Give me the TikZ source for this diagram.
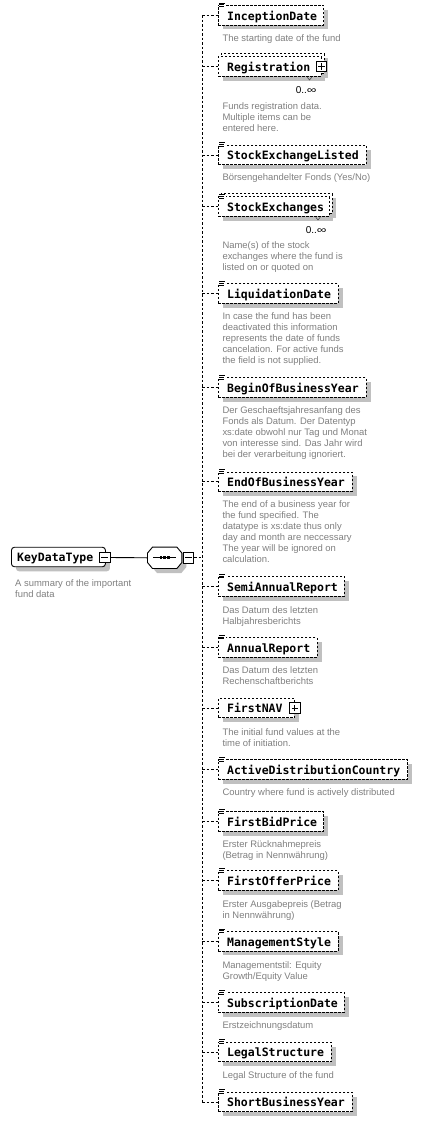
\documentclass[tikz,border=0pt]{standalone}
\usepackage{fontspec}
\usepackage{graphicx}
\setmainfont{Liberation Sans}
\newfontfamily\monofam{DejaVu Sans Mono}
\definecolor{shadowc}{RGB}{192,192,192}
\definecolor{descc}{RGB}{128,128,128}
\newcommand\elfont{\monofam\bfseries\fontsize{11.5}{13}\selectfont\hyphenpenalty=10000 \exhyphenpenalty=10000 }
\newcommand\descfont{\fontsize{9.45}{10.9}\selectfont}
\newcommand\occfont{\fontsize{10}{11}\selectfont}
\newcommand\occtext{0..\scalebox{1.35}[1]{∞}}
\tikzset{
  boxline/.style={draw=black, line width=0.9pt, dash pattern=on 2.2pt off 1.8pt},
  gshadow/.style={preaction={draw=none, fill=shadowc, transform canvas={xshift=4.5pt, yshift=-4.5pt}}},
  elembase/.style={boxline, fill=white, minimum height=19.5pt, inner xsep=8.7pt, inner ysep=0pt,
    anchor=west, align=left, text height=10pt, text depth=0.4pt, font=\elfont},
  elembox/.style={elembase, gshadow},
  backbox/.style={boxline, fill=white, minimum height=19.5pt, inner sep=0pt, anchor=west},
  kdtbox/.style={elembox, solid, rounded corners=3pt, inner xsep=5.7pt},
  seqnode/.style={draw=none, minimum width=34pt, minimum height=21pt, inner sep=0pt},
  seqline/.style={draw=black, line width=0.9pt, fill=white, gshadow},
  conn/.style={draw=black, line width=0.9pt, dash pattern=on 2.5pt off 2pt},
  solidconn/.style={draw=black, line width=0.9pt},
  desc/.style={anchor=north west, inner sep=0pt, align=left, text=descc, font=\descfont},
  iconbox/.style={draw=black, line width=0.9pt, fill=white, minimum size=10.5pt, inner sep=0pt},
  iconline/.style={draw=black, line width=0.9pt},
  eqline/.style={draw=black, line width=0.7pt},
  occ/.style={anchor=east, inner sep=0pt, font=\occfont},
  notch/.style={draw=black!70, line width=0.6pt},
}
\newcommand\elemnode[4]{\pgfmathsetmacro\tw{#3-218-17.4}\node[elembox, text width=\tw pt] (#1) at (218,#2) {#4};}
\newcommand\descnode[3]{\node[desc] (#1) at (222.3,#2-2.6) {#3};}
\newcommand\spinelink[1]{\draw[conn] (#1.west -| spinetop) -- (#1.west);}
\newcommand\eqmark[1]{%
  \fill[white] ([xshift=0.6pt,yshift=2.8pt]#1.north west) rectangle ([xshift=7.6pt,yshift=-2.2pt]#1.north west);
  \draw[eqline] ([xshift=1pt,yshift=2pt]#1.north west) -- ++(6.2,0);
  \draw[eqline] ([xshift=1pt,yshift=0.2pt]#1.north west) -- ++(5,0);
  \draw[eqline] ([xshift=1pt,yshift=-1.6pt]#1.north west) -- ++(5,0);}
\newcommand\minusmark[1]{\draw[iconline] ([xshift=2.3pt]#1.west) -- ([xshift=-2.3pt]#1.east);}
\newcommand\plusmark[1]{\minusmark{#1}\draw[iconline] ([yshift=2.3pt]#1.south) -- ([yshift=-2.3pt]#1.north);}
\begin{document}
\begin{tikzpicture}[x=1pt,y=-1pt]
\useasboundingbox (0,0) rectangle (422,1122);
\fill[white] (0,0) rectangle (422,1122);

% spine
\coordinate (spinetop) at (202,15.2);
\coordinate (spinebot) at (202,1102);
\draw[conn] (spinetop) -- (spinebot);

% root element
\node[kdtbox, text width=82.6pt] (kdt) at (11,557) {KeyDataType};
\node[iconbox] (kdtminus) at (104.7,557.5) {};
\minusmark{kdtminus}
\node[desc] (kdtd) at (15,581.7-2.6) {A summary of the important\\fund data};

% sequence compositor
\node[seqnode] (seq) at (164.7,557.8) {};
\draw[seqline] ([xshift=5pt]seq.north west) -- ([xshift=-5pt]seq.north east)
  -- ([yshift=-6pt]seq.north east) -- ([yshift=6pt]seq.south east)
  -- ([xshift=-5pt]seq.south east) -- ([xshift=5pt]seq.south west)
  -- ([yshift=6pt]seq.south west) -- ([yshift=-6pt]seq.north west) -- cycle;
\draw[solidconn] (kdtminus.east) -- (seq.west);
\draw[line width=0.8pt] ([xshift=5.5pt]seq.west) -- ([xshift=-5.5pt]seq.east);
\foreach \dx in {-3.7,0,3.7} \fill ([xshift=\dx pt]seq.center) +(-1.25,-1.4) rectangle +(1.25,1.4);
\node[iconbox] (seqminus) at (188.3,557.8) {};
\minusmark{seqminus}
\draw[conn] (seqminus.east) -- (seqminus.east -| spinetop);

% InceptionDate
\elemnode{inception}{15.2}{323.3}{InceptionDate}
\eqmark{inception}
\spinelink{inception}
\descnode{inceptiond}{37}{The starting date of the fund}

% Registration (0..inf)
\fill[shadowc] (222.5,61.25) rectangle (325,80.75);
\fill[shadowc] (225.5,58.25) rectangle (328,77.75);
\node[backbox, minimum width=102.5pt] (regback) at (221,63.5) {};
\node[elembase, text width=85.1pt] (registration) at (218,66.5) {Registration};
\node[iconbox] (regplus) at (registration.east) {};
\plusmark{regplus}
\spinelink{registration}
\draw[notch] (307.3,77.2) -- (309.5,80) -- (311.7,77.2);
\node[occ] (regocc) at (316.7,90) {\occtext};
\descnode{regd}{105}{Funds registration data.\\Multiple items can be\\entered here.}

% StockExchangeListed
\elemnode{sel}{155}{365.7}{StockExchangeListed}
\eqmark{sel}
\spinelink{sel}
\descnode{seld}{176}{Börsengehandelter Fonds (Yes/No)}

% StockExchanges (0..inf)
\fill[shadowc] (222.5,201.25) rectangle (333,220.75);
\fill[shadowc] (225.5,198.25) rectangle (336,217.75);
\node[backbox, minimum width=110.5pt] (stockexback) at (221,203.5) {};
\node[elembase, text width=93.1pt] (stockex) at (218,206.5) {StockExchanges};
\eqmark{stockex}
\spinelink{stockex}
\draw[notch] (315.8,217.2) -- (318,220) -- (320.2,217.2);
\node[occ] (seocc) at (326.7,230) {\occtext};
\descnode{stockexd}{244}{Name(s) of the stock\\exchanges where the fund is\\listed on or quoted on}

% LiquidationDate
\elemnode{liq}{293.5}{337.7}{LiquidationDate}
\eqmark{liq}
\spinelink{liq}
\descnode{liqd}{315}{In case the fund has been\\deactivated this information\\represents the date of funds\\cancelation. For active funds\\the field is not supplied.}

% BeginOfBusinessYear
\elemnode{boby}{387.5}{365.7}{BeginOfBusinessYear}
\eqmark{boby}
\spinelink{boby}
\descnode{bobyd}{409.3}{Der Geschaeftsjahresanfang des\\Fonds als Datum. Der Datentyp\\xs:date obwohl nur Tag und Monat\\von interesse sind. Das Jahr wird\\bei der verarbeitung ignoriert.}

% EndOfBusinessYear
\elemnode{eoby}{481.7}{351.7}{EndOfBusinessYear}
\eqmark{eoby}
\spinelink{eoby}
\descnode{eobyd}{503.3}{The end of a business year for\\the fund specified. The\\datatype is xs:date thus only\\day and month are neccessary\\The year will be ignored on\\calculation.}

% SemiAnnualReport
\elemnode{semi}{586.3}{344}{SemiAnnualReport}
\eqmark{semi}
\spinelink{semi}
\descnode{semid}{609.3}{Das Datum des letzten\\Halbjahresberichts}

% AnnualReport
\elemnode{annual}{647.3}{316.7}{AnnualReport}
\eqmark{annual}
\spinelink{annual}
\descnode{annuald}{669.3}{Das Datum des letzten\\Rechenschaftberichts}

% FirstNAV
\elemnode{firstnav}{708}{294}{FirstNAV}
\node[iconbox] (navplus) at (firstnav.east) {};
\plusmark{navplus}
\spinelink{firstnav}
\descnode{firstnavd}{730.7}{The initial fund values at the\\time of initiation.}

% ActiveDistributionCountry
\elemnode{adc}{769.5}{407.3}{ActiveDistributionCountry}
\eqmark{adc}
\spinelink{adc}
\descnode{adcd}{790.7}{Country where fund is actively distributed}

% FirstBidPrice
\elemnode{fbp}{821.5}{323.3}{FirstBidPrice}
\eqmark{fbp}
\spinelink{fbp}
\descnode{fbpd}{842.7}{Erster Rücknahmepreis\\(Betrag in Nennwährung)}

% FirstOfferPrice
\elemnode{fop}{880.5}{337.7}{FirstOfferPrice}
\eqmark{fop}
\spinelink{fop}
\descnode{fopd}{902.7}{Erster Ausgabepreis (Betrag\\in Nennwährung)}

% ManagementStyle
\elemnode{ms}{941.2}{337.7}{ManagementStyle}
\eqmark{ms}
\spinelink{ms}
\descnode{msd}{964}{Managementstil: Equity\\Growth/Equity Value}

% SubscriptionDate
\elemnode{sd}{1002.5}{344}{SubscriptionDate}
\eqmark{sd}
\spinelink{sd}
\descnode{sdd}{1024}{Erstzeichnungsdatum}

% LegalStructure
\elemnode{ls}{1052}{331}{LegalStructure}
\eqmark{ls}
\spinelink{ls}
\descnode{lsd}{1074.3}{Legal Structure of the fund}

% ShortBusinessYear
\elemnode{sby}{1102}{351.7}{ShortBusinessYear}
\eqmark{sby}
\spinelink{sby}
\end{tikzpicture}
\end{document}
